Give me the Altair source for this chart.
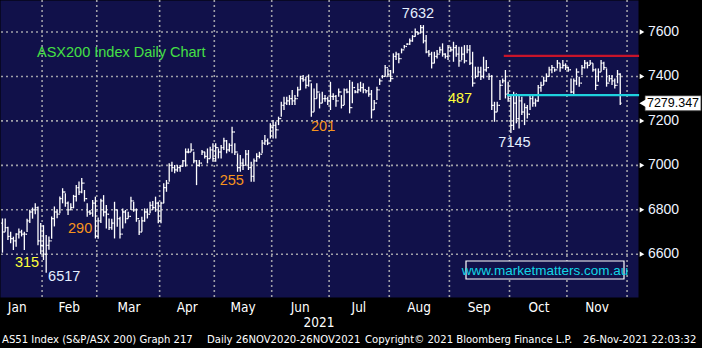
import altair as alt
import pandas as pd

# ---------------- data ----------------
month_names = ["Jan", "Feb", "Mar", "Apr", "May", "Jun", "Jul", "Aug", "Sep", "Oct", "Nov"]
month_mid = [9.4, 28.4, 50.3, 71.6, 92.0, 112.9, 134.4, 156.4, 178.4, 200.3, 221.5]
month_bounds = [18.5, 38.5, 61.5, 81.5, 102.5, 123.5, 145.5, 167.5, 189.5, 210.5, 232.5]
y_major = [6600, 6800, 7000, 7200, 7400, 7600]
y_labels = ["6600", "6800", "7000", "7200", "7400", "7600"]
y_ticks = [6500, 6600, 6700, 6800, 6900, 7000, 7100, 7200, 7300, 7400, 7500, 7600, 7700]

first_idx = 4          # trading-day index of the first visible bar (8 Jan 2021)
first_open = 6740

highs = [
    # Jan
    6761, 6761, 6724, 6701, 6679, 6694, 6716, 6710, 6701, 6760, 6800, 6810, 6829, 6815, 6740,
    # Feb
    6731, 6686, 6680, 6770, 6815, 6800, 6860, 6897, 6874, 6837, 6829, 6867, 6912, 6927, 6943,
    6889, 6829, 6799, 6844, 6859,
    # Mar
    6765, 6850, 6866, 6822, 6761, 6760, 6836, 6799, 6769, 6806, 6799, 6791, 6859, 6836, 6806,
    6754, 6769, 6806, 6806, 6836, 6840, 6859, 6836,
    # Apr
    6836, 6919, 6934, 7009, 7016, 7001, 7001, 7001, 7024, 7076, 7076, 7099, 7061, 7024, 7024,
    7069, 7061, 7076, 7084, 7099,
    # May
    7099, 7076, 7091, 7124, 7114, 7099, 7174, 7099, 7054, 7046, 7031, 7069, 7069, 7016, 7031,
    7054, 7061, 7114, 7136, 7121, 7189,
    # Jun
    7204, 7196, 7219, 7286, 7309, 7309, 7316, 7339, 7316, 7354, 7403, 7406, 7399, 7409, 7369,
    7346, 7369, 7324, 7331, 7316, 7309,
    # Jul
    7376, 7324, 7316, 7346, 7316, 7346, 7346, 7384, 7376, 7339, 7369, 7376, 7369, 7339, 7354,
    7339, 7294, 7354, 7391, 7406, 7451, 7436,
    # Aug
    7429, 7504, 7511, 7504, 7526, 7541, 7549, 7571, 7586, 7616, 7601, 7632, 7631, 7586, 7519,
    7511, 7511, 7519, 7534, 7549, 7504, 7541,
    # Sep
    7534, 7556, 7541, 7534, 7534, 7541, 7541, 7541, 7511, 7444, 7444, 7444, 7489, 7474, 7414,
    7406, 7286, 7286, 7384, 7391, 7429, 7376,
    # Oct
    7316, 7331, 7324, 7316, 7309, 7279, 7271, 7316, 7316, 7301, 7361, 7376, 7399, 7414, 7444,
    7451, 7436, 7474, 7459, 7474, 7459,
    # Nov
    7444, 7391, 7391, 7436, 7399, 7451, 7474, 7466, 7474, 7459, 7436, 7436, 7474, 7466, 7436,
    7406, 7406, 7391, 7429, 7414,
]

lows = [
    # Jan
    6607, 6701, 6664, 6649, 6619, 6634, 6671, 6680, 6619, 6700, 6740, 6760, 6780, 6640, 6600,
    # Feb
    6574, 6517, 6620, 6670, 6725, 6762, 6784, 6829, 6814, 6777, 6799, 6807, 6837, 6867, 6874,
    6837, 6769, 6777, 6769, 6671,
    # Mar
    6670, 6740, 6770, 6716, 6709, 6710, 6671, 6724, 6671, 6716, 6739, 6761, 6799, 6791, 6746,
    6686, 6701, 6746, 6761, 6784, 6799, 6791, 6739,
    # Apr
    6739, 6829, 6881, 6926, 6971, 6964, 6971, 6971, 6994, 6994, 7054, 7061, 7009, 6911, 6994,
    7046, 7031, 7009, 7031, 7016,
    # May
    7016, 7031, 7031, 7069, 7054, 7061, 7054, 7046, 6971, 6971, 6979, 7001, 6979, 6926, 6926,
    7016, 7031, 7054, 7091, 7091, 7121,
    # Jun
    7121, 7121, 7181, 7219, 7249, 7271, 7271, 7271, 7271, 7309, 7339, 7376, 7346, 7354, 7219,
    7241, 7301, 7256, 7279, 7286, 7271,
    # Jul
    7249, 7294, 7264, 7309, 7256, 7271, 7324, 7234, 7279, 7324, 7324, 7331, 7324, 7324, 7309,
    7211, 7249, 7294, 7361, 7391, 7399, 7399,
    # Aug
    7376, 7414, 7474, 7459, 7504, 7526, 7541, 7541, 7556, 7579, 7586, 7594, 7549, 7504, 7489,
    7436, 7459, 7481, 7504, 7489, 7481, 7474,
    # Sep
    7511, 7466, 7489, 7444, 7474, 7459, 7504, 7451, 7354, 7391, 7399, 7384, 7391, 7421, 7384,
    7249, 7196, 7241, 7294, 7369, 7301, 7286,
    # Oct
    7145, 7159, 7189, 7166, 7226, 7181, 7211, 7249, 7264, 7264, 7286, 7331, 7361, 7376, 7399,
    7414, 7421, 7436, 7421, 7436, 7429,
    # Nov
    7421, 7324, 7316, 7361, 7354, 7406, 7436, 7436, 7451, 7421, 7339, 7376, 7421, 7429, 7354,
    7376, 7361, 7346, 7369, 7271,
]

closes = [
    # Jan
    6700, 6720, 6680, 6670, 6660, 6690, 6700, 6690, 6690, 6750, 6790, 6800, 6810, 6660, 6640,
    # Feb
    6600, 6640, 6660, 6760, 6790, 6780, 6850, 6880, 6830, 6800, 6810, 6860, 6900, 6880, 6920,
    6850, 6790, 6785, 6830, 6680,
    # Mar
    6750, 6840, 6790, 6780, 6720, 6740, 6800, 6760, 6690, 6790, 6760, 6770, 6840, 6800, 6760,
    6700, 6750, 6790, 6780, 6820, 6810, 6830, 6750,
    # Apr
    6830, 6900, 6920, 7000, 6990, 6980, 6990, 6995, 7020, 7060, 7060, 7070, 7020, 7000, 7010,
    7060, 7040, 7030, 7070, 7030,
    # May
    7080, 7060, 7080, 7110, 7070, 7090, 7150, 7060, 6990, 7010, 7000, 7050, 6990, 6950, 7020,
    7040, 7050, 7100, 7110, 7100, 7170,
    # Jun
    7180, 7160, 7210, 7270, 7280, 7290, 7300, 7290, 7300, 7340, 7390, 7385, 7360, 7380, 7240,
    7300, 7330, 7280, 7300, 7300, 7290,
    # Jul
    7310, 7310, 7290, 7330, 7270, 7340, 7330, 7260, 7350, 7330, 7340, 7350, 7340, 7335, 7320,
    7250, 7280, 7340, 7380, 7400, 7440, 7410,
    # Aug
    7390, 7490, 7500, 7480, 7520, 7535, 7545, 7560, 7580, 7600, 7595, 7620, 7560, 7510, 7500,
    7460, 7490, 7500, 7520, 7500, 7490, 7530,
    # Sep
    7520, 7530, 7500, 7470, 7500, 7470, 7520, 7460, 7370, 7400, 7420, 7400, 7430, 7440, 7400,
    7270, 7240, 7270, 7360, 7380, 7320, 7300,
    # Oct
    7180, 7280, 7210, 7290, 7240, 7260, 7230, 7300, 7280, 7290, 7350, 7360, 7380, 7400, 7430,
    7440, 7430, 7460, 7440, 7450, 7440,
    # Nov
    7430, 7330, 7380, 7420, 7370, 7440, 7460, 7450, 7460, 7430, 7360, 7420, 7460, 7440, 7370,
    7390, 7380, 7360, 7410, 7279.347,
]

resistance_level = 7493
support_level = 7316
level_start = [187.4, 188.6]
last_price = 7279.347

note_text = ["7632", "7145", "6517", "315", "290", "255", "201", "487"]
note_idx = [156.0, 191.3, 26.6, 13.0, 32.4, 87.9, 121.3, 171.4]
note_val = [7681, 7100, 6497, 6560, 6713, 6929, 7172, 7298]
note_color = ["#e4efff", "#e4efff", "#e4efff", "#ffff3a", "#f7941d", "#f7941d", "#f7941d", "#ffff3a"]

# ---------------- tables ----------------
idx = list(range(first_idx, first_idx + len(closes)))
opens = [first_open] + closes[:-1]
bars = pd.DataFrame({"idx": idx, "open": opens, "high": highs, "low": lows, "close": closes})
grid_y = pd.DataFrame({"v": y_major, "lab": y_labels})
grid_x = pd.DataFrame({"b": month_bounds})
months = pd.DataFrame({"m": month_names, "mid": month_mid})
notes = pd.DataFrame({"t": note_text, "i": note_idx, "v": note_val, "c": note_color})
levels = pd.DataFrame({"v": [resistance_level, support_level], "x0": level_start,
                       "x1": [236.9, 236.9], "c": ["#c8142a", "#1fd2de"]})
lastp = pd.DataFrame({"v": [last_price], "top": [last_price + 34], "bot": [last_price - 34],
                      "t": ["7279.347"]})

XMIN, XMAX = 3.1, 236.5
xs = alt.Scale(domain=[XMIN, XMAX], nice=False, zero=False)
ys = alt.Scale(domain=[6407.5, 7744], nice=False, zero=False)
NAVY = "#11114a"
NARROW = "Liberation Sans Narrow, DejaVu Sans Condensed, Arial Narrow, Liberation Sans, sans-serif"
BAR_W = 1.3

hgrid = alt.Chart(grid_y).mark_rule(color="#a0a0a8", strokeDash=[2, 3], strokeWidth=1.6).encode(
    y=alt.Y("v:Q", scale=ys, axis=None))
vgrid = alt.Chart(grid_x).mark_rule(color="#a0a0a8", strokeDash=[2, 3], strokeWidth=1.6).encode(
    x=alt.X("b:Q", scale=xs, axis=None))

wick = alt.Chart(bars).mark_rule(color="white", strokeWidth=BAR_W).encode(
    x=alt.X("idx:Q", scale=xs,
            axis=alt.Axis(values=month_bounds, labels=False, grid=False, tickColor="white",
                          tickSize=4, domainColor="white", domainWidth=1.5, title="")),
    y=alt.Y("low:Q", scale=ys,
            axis=alt.Axis(orient="right", values=y_ticks, labels=False, grid=False,
                          tickColor="white", tickSize=5, domainColor="white", domainWidth=1.5,
                          title="")),
    y2="high:Q")

open_tick = alt.Chart(bars).mark_rule(color="white", strokeWidth=BAR_W).transform_calculate(
    xl="datum.idx - 0.45").encode(
    x=alt.X("xl:Q", scale=xs, axis=None), x2="idx:Q",
    y=alt.Y("open:Q", scale=ys, axis=None))
close_tick = alt.Chart(bars).mark_rule(color="white", strokeWidth=BAR_W).transform_calculate(
    xr="datum.idx + 0.45").encode(
    x=alt.X("idx:Q", scale=xs, axis=None), x2="xr:Q",
    y=alt.Y("close:Q", scale=ys, axis=None))

level_lines = alt.Chart(levels).mark_rule(strokeWidth=2.2).encode(
    x=alt.X("x0:Q", scale=xs, axis=None), x2="x1:Q",
    y=alt.Y("v:Q", scale=ys, axis=None),
    color=alt.Color("c:N", scale=None))

tri = alt.Chart(grid_y).mark_point(shape="triangle-right", filled=True, color="white",
                                   size=28, opacity=1).encode(
    x=alt.value(642), y=alt.Y("v:Q", scale=ys, axis=None))
ylab = alt.Chart(grid_y).mark_text(font="Liberation Sans", fontSize=14, color="#eef3ff",
                                   align="left", baseline="middle").encode(
    x=alt.value(648), y=alt.Y("v:Q", scale=ys, axis=None), text="lab:N")

note_layer = alt.Chart(notes).mark_text(font="Liberation Sans", fontSize=14.5, baseline="middle",
                                        align="center").encode(
    x=alt.X("i:Q", scale=xs, axis=None), y=alt.Y("v:Q", scale=ys, axis=None),
    text="t:N", color=alt.Color("c:N", scale=None))

title_txt = alt.Chart(pd.DataFrame({"t": ["ASX200 Index Daily Chart"]})).mark_text(
    font="Liberation Sans", fontSize=14.5, align="left", baseline="middle", color="#45e045").encode(
    x=alt.value(37), y=alt.value(53), text="t:N")

price_box = alt.Chart(lastp).mark_rect(fill="white", stroke="#333333", strokeWidth=0.8).encode(
    x=alt.value(645), x2=alt.value(701), y=alt.Y("top:Q", scale=ys, axis=None), y2="bot:Q")
price_tip = alt.Chart(lastp).mark_point(shape="triangle-left", filled=True, color="white",
                                        size=70, opacity=1).encode(
    x=alt.value(643), y=alt.Y("v:Q", scale=ys, axis=None))
price_txt = alt.Chart(lastp).mark_text(font="Liberation Sans", fontSize=12.5, color="black",
                                       align="center", baseline="middle").encode(
    x=alt.value(673), y=alt.Y("v:Q", scale=ys, axis=None), text="t:N")

web_box = alt.Chart(pd.DataFrame({"t": ["www.marketmatters.com.au"]})).mark_rect(
    fill=NAVY, stroke="white", strokeWidth=1.2).encode(
    x=alt.value(466), x2=alt.value(624), y=alt.value(261), y2=alt.value(279))
web_txt = alt.Chart(pd.DataFrame({"t": ["www.marketmatters.com.au"]})).mark_text(
    font="Liberation Sans", fontSize=13.5, color="#12d6e6", align="center", baseline="middle").encode(
    x=alt.value(545), y=alt.value(270.5), text="t:N")

month_txt = alt.Chart(months).mark_text(font=NARROW, fontSize=13.5, color="white",
                                        baseline="middle", align="center").encode(
    x=alt.X("mid:Q", scale=xs, axis=None), y=alt.value(308), text="m:N")

footer = pd.DataFrame({
    "t": ["AS51 Index (S&P/ASX 200) Graph 217", "Daily 26NOV2020-26NOV2021",
          "Copyright\u00a9 2021 Bloomberg Finance L.P.", "26-Nov-2021 22:03:32"],
    "px": [2, 207, 365, 583],
})
footer_txt = alt.Chart(footer).mark_text(font=NARROW, fontSize=11.2, color="white",
                                         baseline="middle", align="left").encode(
    x=alt.X("px:Q", scale=None, axis=None), y=alt.value(340), text="t:N")
year_txt = alt.Chart(pd.DataFrame({"t": ["2021"]})).mark_text(
    font=NARROW, fontSize=13.5, color="white", baseline="middle", align="center").encode(
    x=alt.value(319), y=alt.value(323), text="t:N")

chart = alt.layer(
    hgrid, vgrid, wick, open_tick, close_tick, level_lines, tri, ylab, note_layer, title_txt,
    web_box, web_txt, price_box, price_tip, price_txt, month_txt, footer_txt, year_txt
).properties(
    width=638, height=297,
    padding={"left": 0, "top": 0, "right": 64, "bottom": 51},
    autosize=alt.AutoSizeParams(type="none"),
    background="black",
).configure_view(fill=NAVY, strokeOpacity=0)

chart.save("out.html", embed_options={"renderer": "svg", "actions": False})
